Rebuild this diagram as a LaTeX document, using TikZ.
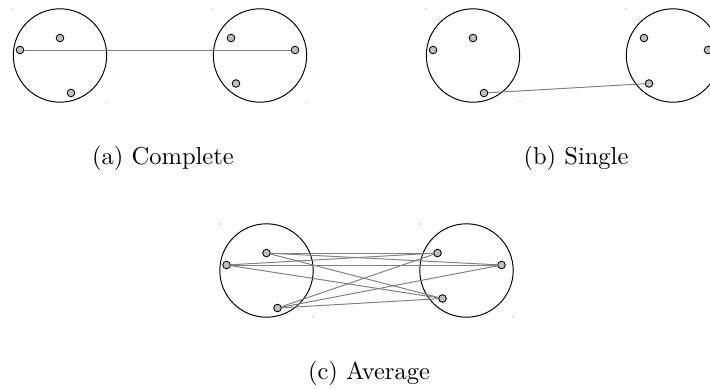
\documentclass[tikz,border=0pt]{standalone}
\usepackage{tikz}
\tikzset{every node/.style={font=\normalsize},pt/.style={circle,draw,line width=.35pt,fill=gray!50,inner sep=0pt,minimum size=3.1pt},
blob/.style={line width=.4pt},link/.style={gray,line width=.4pt},tick/.style={gray}}
% one pair of clusters, box corner of the left circle at the origin
\newcommand{\clusters}{%
\draw[blob] (47,46.5) circle (46.7);\draw[blob] (247,46.5) circle (46.7);
\foreach \c in {{0,0},{94,93},{200,0},{294,93}} \fill[tick] (\c) circle (.7);
\foreach \n/\p in {1/{7,41},2/{47,29},3/{58,84}} \node[pt] (l\n) at (\p){};
\foreach \n/\p in {1/{218,29},2/{282,41},3/{223,74.5}} \node[pt] (r\n) at (\p){};}

\begin{document}
\begin{tikzpicture}[x=.408pt,y=-.408pt]
\useasboundingbox (0,0) rectangle (710,389);\clip (0,0) rectangle (710,389);
\begin{scope}[shift={(13,9)}]
\clusters
\draw[link] (l1)--(r2);
\end{scope}
\begin{scope}[shift={(426,9)}]
\clusters
\draw[link] (l3)--(r3);
\end{scope}
\begin{scope}[shift={(219.5,224)}]
\clusters
\foreach \i in {1,2,3}{\foreach \j in {1,2,3} \draw[link] (l\i)--(r\j);}
\end{scope}
\node[anchor=base] (capa) at (163,164){(a)~Complete};
\node[anchor=base] (capb) at (576,164){(b)~Single};
\node[anchor=base] (capc) at (369,379){(c)~Average};
\end{tikzpicture}
\end{document}
